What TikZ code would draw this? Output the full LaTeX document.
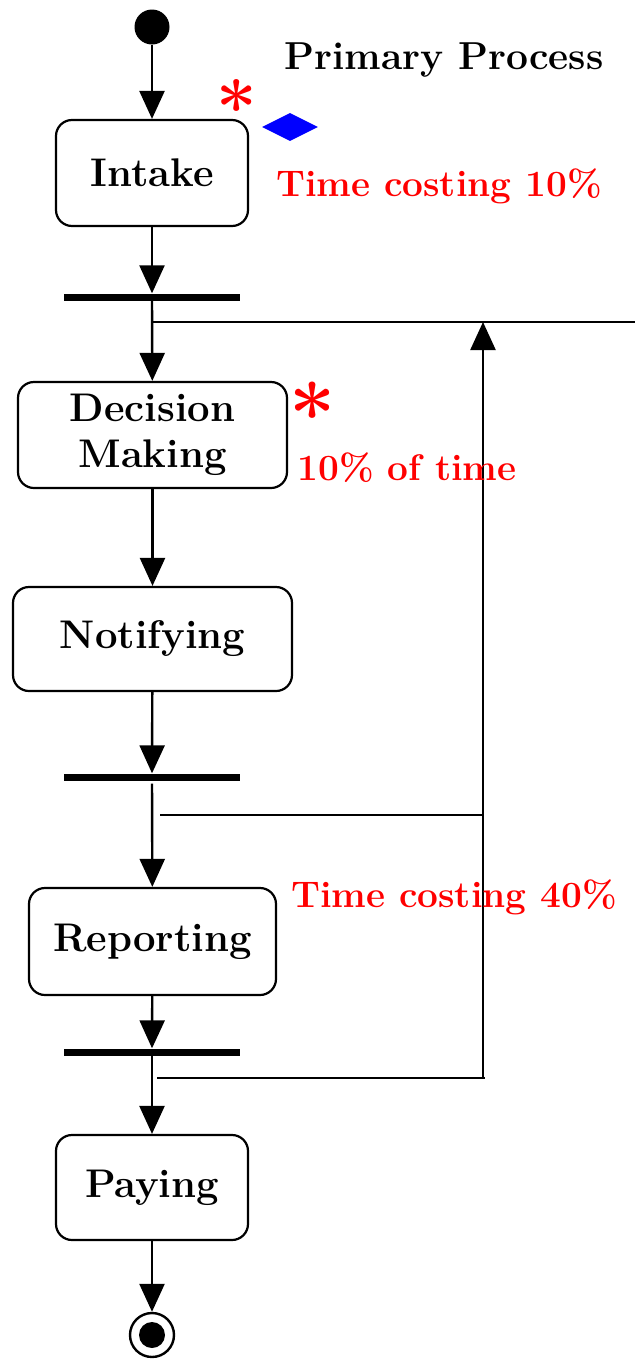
\documentclass[tikz,border=0pt]{standalone}
\usetikzlibrary{arrows.meta,shapes.geometric}
\definecolor{notered}{RGB}{255,0,0}
\definecolor{markblue}{RGB}{0,0,255}
\tikzset{
  activity/.style={draw, line width=2.2pt, rounded corners=16pt, fill=white,
    inner sep=0pt, align=center, font=\fontsize{40}{46}\selectfont\bfseries},
  syncbar/.style={fill=black, inner sep=0pt, minimum width=176pt, minimum height=7pt},
  flow/.style={line width=2.4pt, -{Triangle[length=28pt,width=25pt]}},
  plain/.style={line width=2.4pt},
  note/.style={text=notered, inner sep=0pt, font=\fontsize{37}{45}\selectfont\bfseries},
  title/.style={inner sep=0pt, font=\fontsize{39}{45}\selectfont\bfseries},
  star/.style={text=notered, inner sep=0pt, font=\fontsize{#1}{#1}\selectfont\bfseries},
}
\begin{document}
\begin{tikzpicture}[x=1pt, y=-1pt]
  \useasboundingbox (0,0) rectangle (635,1363);

  % initial and final states
  \node[circle, fill=black, minimum size=35pt, inner sep=0pt] (start) at (152,27) {};
  \node[circle, draw, line width=2.4pt, minimum size=44pt, inner sep=0pt] (final) at (152,1335) {};
  \node[circle, fill=black, minimum size=26pt, inner sep=0pt] (finaldot) at (152,1335) {};

  % activities
  \node[activity, minimum width=192pt, minimum height=106pt] (intake) at (152,173) {Intake};
  \node[activity, minimum width=269pt, minimum height=106pt] (decision) at (152.5,435) {Decision\\Making};
  \node[activity, minimum width=279pt, minimum height=104pt] (notify) at (152.5,639) {Notifying};
  \node[activity, minimum width=247pt, minimum height=107pt] (report) at (152.5,941.5) {Reporting};
  \node[activity, minimum width=192pt, minimum height=105pt] (pay) at (152,1187.5) {Paying};

  % synchronisation bars
  \node[syncbar] (bar1) at (152,297) {};
  \node[syncbar] (bar2) at (152,777) {};
  \node[syncbar] (bar3) at (152,1052) {};

  % feedback lines
  \coordinate (j1) at (152,322);
  \coordinate (e1) at (635,322);
  \coordinate (l1) at (483,322);
  \coordinate (j2) at (160,815);
  \coordinate (k2) at (483,815);
  \coordinate (j3) at (157,1078);
  \coordinate (k3) at (485,1078);
  \coordinate (l3) at (483,1078);

  % main flow
  \draw[flow] (start) -- (intake);
  \draw[flow] (intake) -- (bar1);
  \draw[flow] (bar1) -- (decision);
  \draw[flow] (decision) -- (notify);
  \draw[flow] (notify) -- (bar2);
  \draw[flow, shorten <=3pt] (bar2) -- (report);
  \draw[flow] (report) -- (bar3);
  \draw[flow] (bar3) -- (pay);
  \draw[flow] (pay) -- (final);

  \draw[plain] (j1) -- (e1);
  \draw[plain] (j2) -- (k2);
  \draw[plain] (j3) -- (k3);
  \draw[flow] (l3) -- (l1);

  % annotations
  \node[title] (ttl) at (444,60) {Primary Process};
  \node[star=72] (star1) at (237,106) {*};
  \node[diamond, fill=markblue, aspect=2, minimum width=56pt, minimum height=28pt, inner sep=0pt] (mark) at (290,127) {};
  \node[note] (n1) at (439,186) {Time costing 10\%};
  \node[star=82] (star2) at (313,413) {*};
  \node[note] (n2) at (407,468) {10\% of time};
  \node[note] (n3) at (454,897) {Time costing 40\%};
\end{tikzpicture}
\end{document}
